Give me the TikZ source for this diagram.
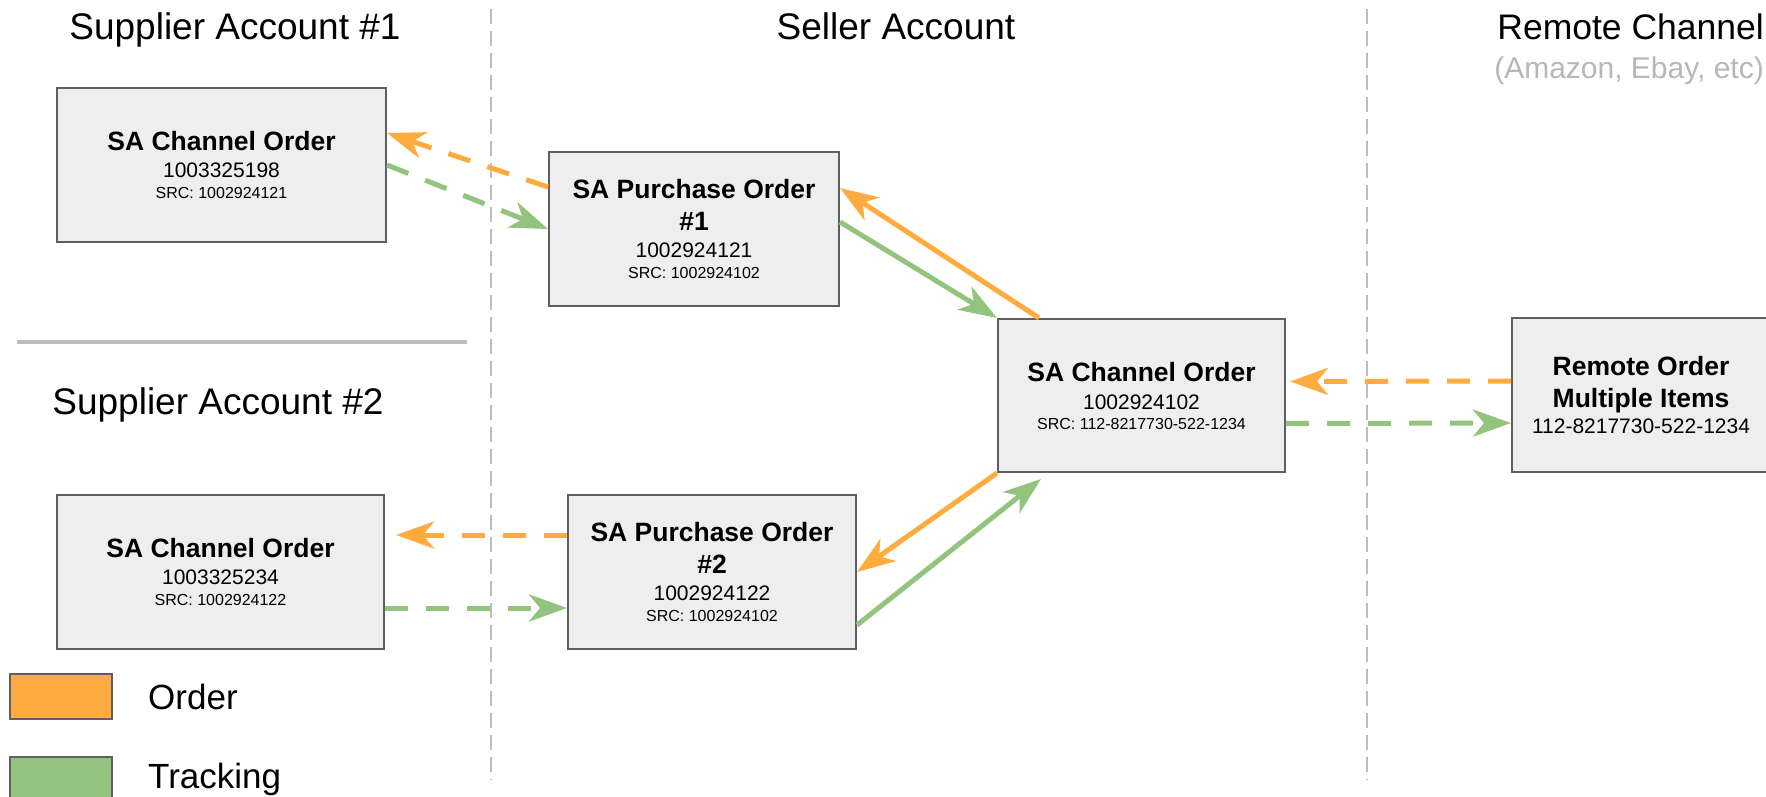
\documentclass[tikz,border=0pt]{standalone}
\usepackage{fontspec}
\setmainfont{Liberation Sans}
\usetikzlibrary{arrows.meta,positioning}
\definecolor{ordcol}{HTML}{FFAB40}
\definecolor{trkcol}{HTML}{93C47D}
\definecolor{boxfill}{HTML}{EEEEEE}
\definecolor{boxline}{HTML}{5F5F5F}
\definecolor{sepcol}{HTML}{BDBDBD}
\definecolor{subcol}{HTML}{B7B7B7}
\newcommand{\hdfont}{\bfseries\fontsize{26.5}{32}\selectfont}
\newcommand{\srcfont}{\fontsize{16}{19}\selectfont}

\begin{document}
\begin{tikzpicture}[x=1pt,y=-1pt,
  order/.style={draw=ordcol,line width=5pt,-{Stealth[length=38pt,width=27pt,inset=11pt]}},
  track/.style={draw=trkcol,line width=5pt,-{Stealth[length=38pt,width=27pt,inset=11pt]}},
  dashflow/.style={dash pattern=on 23pt off 18pt},
  acct/.style={draw=boxline,fill=boxfill,line width=2pt,minimum height=154pt,inner sep=0pt,align=center,font=\fontsize{21}{21}\selectfont},
  colhead/.style={font=\fontsize{37}{44}\selectfont,anchor=base,inner sep=0pt},
  divider/.style={draw=sepcol,line width=2pt,dash pattern=on 15pt off 7pt},
  legkey/.style={draw=boxline,line width=2pt,minimum width=102pt,minimum height=45pt,inner sep=0pt,anchor=north west},
  legtext/.style={font=\fontsize{35}{42}\selectfont,inner sep=0pt}]
\useasboundingbox (0,0) rectangle (1766,797);

% column headings
\node[colhead] (hsup1) at (235,40) {Supplier Account \#1};
\node[colhead] (hsell) at (896,40) {Seller Account};
\node[colhead,anchor=base east,font=\fontsize{35.5}{42}\selectfont] (hrem) at (1764,40) {Remote Channel};
\node[colhead,anchor=base east,font=\fontsize{30}{36}\selectfont,text=subcol] (hremsub) at (1764,79) {(Amazon, Ebay, etc)};
\node[colhead] (hsup2) at (218,414) {Supplier Account \#2};

% separators
\draw[divider] (491,9) -- (491,780);
\draw[divider] (1367,9) -- (1367,780);
\draw[sepcol,line width=4pt] (17,342) -- (467,342);

% orders
\node[acct,minimum width=329pt] (sup1) at (221.5,165) {{\hdfont SA Channel Order}\\[6pt] 1003325198\\ {\srcfont SRC: 1002924121}};
\node[acct,minimum width=290pt] (pur1) at (694,229) {{\hdfont SA Purchase Order}\\[11pt] {\hdfont \#1}\\[6pt] 1002924121\\ {\srcfont SRC: 1002924102}};
\node[acct,minimum width=287pt,minimum height=153pt] (chan) at (1141.5,395.5) {{\hdfont SA Channel Order}\\[7pt] 1002924102\\[-1pt] {\srcfont SRC: 112-8217730-522-1234}};
\node[acct,minimum width=258pt] (remote) at (1641,395) {{\hdfont Remote Order}\\[11pt] {\hdfont Multiple Items}\\[5pt] 112-8217730-522-1234};
\node[acct,minimum width=327pt] (sup2) at (220.5,572) {{\hdfont SA Channel Order}\\[6pt] 1003325234\\ {\srcfont SRC: 1002924122}};
\node[acct,minimum width=288pt] (pur2) at (712,572) {{\hdfont SA Purchase Order}\\[11pt] {\hdfont \#2}\\[6pt] 1002924122\\ {\srcfont SRC: 1002924102}};

% flows
\draw[order,dashflow] ([yshift=42pt]pur1.west) -- ([yshift=32pt]sup1.east);
\draw[track,dashflow] (sup1.east) -- (pur1.west);
\draw[track] ([yshift=7pt]pur1.east) -- (chan.north west);
\draw[order] ([xshift=42pt]chan.north west) -- ([yshift=41pt]pur1.east);
\draw[order] (chan.south west) -- (pur2.east);
\draw[track] ([yshift=-53pt]pur2.east) -- ([xshift=44pt,yshift=-6pt]chan.south west);
\draw[order,dashflow] ([yshift=14pt]remote.west) -- ([xshift=4pt,yshift=14pt]chan.east);
\draw[track,dashflow] ([yshift=-28pt]chan.east) -- ([yshift=-28pt]remote.west);
\draw[order,dashflow] ([yshift=37pt]pur2.west) -- ([xshift=11pt,yshift=37pt]sup2.east);
\draw[track,dashflow] ([yshift=-36pt]sup2.east) -- ([yshift=-36pt]pur2.west);

% legend
\node[legkey,fill=ordcol] (ordkey) at (9,673) {};
\node[legkey,fill=trkcol] (trkkey) at (9,756) {};
\node[legtext,right=35pt of ordkey] (ordtxt) {Order};
\node[legtext,right=35pt of trkkey] (trktxt) {Tracking};
\end{tikzpicture}
\end{document}
